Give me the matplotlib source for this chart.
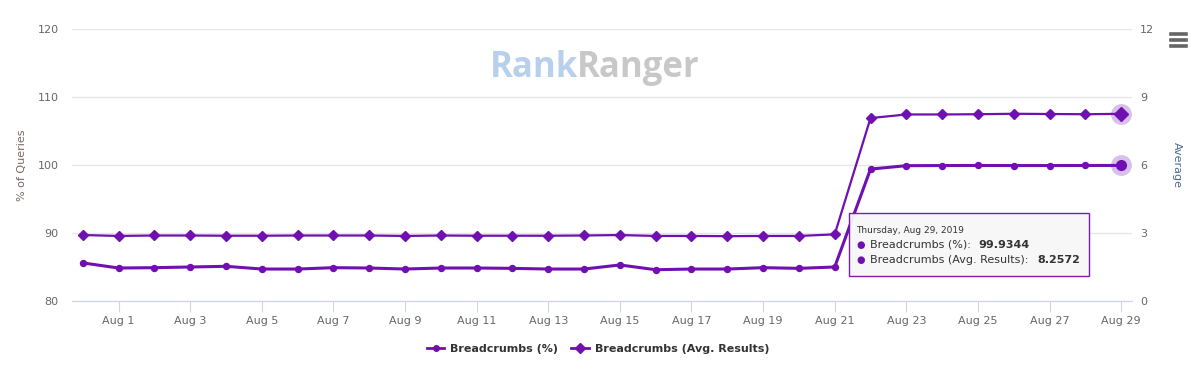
import numpy as np
import matplotlib
matplotlib.use("Agg")
import matplotlib.pyplot as plt
from matplotlib.lines import Line2D

# daily values, Jul 31 .. Aug 29 2019
days = ["Jul 31"] + [f"Aug {d}" for d in range(1, 30)]
pct = [85.6, 84.85, 84.9, 85.0, 85.1, 84.7, 84.7, 84.9, 84.85, 84.7,
       84.85, 84.85, 84.8, 84.7, 84.7, 85.3, 84.6, 84.7, 84.7, 84.9,
       84.8, 85.0, 99.4, 99.9, 99.92, 99.93, 99.92, 99.92, 99.93, 99.9344]
avg = [2.91, 2.87, 2.89, 2.89, 2.88, 2.88, 2.89, 2.89, 2.89, 2.87,
       2.89, 2.88, 2.88, 2.88, 2.89, 2.91, 2.87, 2.87, 2.86, 2.87,
       2.87, 2.94, 8.07, 8.23, 8.23, 8.24, 8.26, 8.25, 8.24, 8.2572]

purple = "#7010b0"
grid = "#e6e6e6"
txt = "#666666"

fig = plt.figure(figsize=(12.03, 3.70), dpi=100)
ax = fig.add_axes([0.0599, 0.1865, 0.881, 0.7351])
ax2 = ax.twinx()

x = np.arange(len(days))

ax.set_ylim(80, 120)
ax.set_yticks([80, 90, 100, 110, 120])
ax2.set_ylim(0, 12)
ax2.set_yticks([0, 3, 6, 9, 12])
ax.set_xlim(-0.3, len(days) - 1 + 0.3)

ax.grid(axis="y", color=grid, lw=1)
ax.set_axisbelow(True)
for a in (ax, ax2):
    for s in ("top", "left", "right"):
        a.spines[s].set_visible(False)
    a.spines["bottom"].set_color("#ccd6eb")
    a.tick_params(axis="y", length=0, labelsize=8, colors=txt)
ax.tick_params(axis="y", pad=9.5)
ax2.tick_params(axis="y", pad=6)

ticks = list(range(1, len(days), 2))
ax.set_xticks(ticks)
ax.set_xticklabels([days[i] for i in ticks])
ax.tick_params(axis="x", length=8, color="#ccd6eb", labelsize=8, colors=txt, pad=3)

ax.set_ylabel("% of Queries", fontsize=8, color="#7a6660", labelpad=8)
ax2.set_ylabel("Average", fontsize=8, color="#4e6a8c", rotation=270, labelpad=20)

# series
ax.plot(x, pct, color=purple, lw=2.2, marker="o", ms=4.3, zorder=3)
ax2.plot(x, avg, color=purple, lw=1.6, marker="D", ms=5.0, zorder=3)

# hover halo on last points
ax.plot(x[-1], pct[-1], "o", ms=14, color="#d8c0ec", zorder=2)
ax.plot(x[-1], pct[-1], "o", ms=7, color=purple, zorder=4)
ax2.plot(x[-1], avg[-1], "o", ms=14, color="#d8c0ec", zorder=2)
ax2.plot(x[-1], avg[-1], "D", ms=7, color=purple, zorder=4)

# watermark
t1 = fig.text(0.407, 0.815, "Rank", fontsize=25, fontweight="bold", color="#b9d0ec",
              ha="left", va="center", family="Open Sans")
fig.canvas.draw()
bb = t1.get_window_extent().transformed(fig.transFigure.inverted())
fig.text(bb.x1 - 0.001, 0.815, "Ranger", fontsize=25, fontweight="bold", color="#c8c8c8",
         ha="left", va="center", family="Open Sans")

# menu icon
for yy in (0.907, 0.892, 0.877):
    fig.add_artist(Line2D([0.973, 0.986], [yy, yy], color="#666666", lw=2.6))

# tooltip
fig.patches.append(plt.Rectangle((0.7057, 0.2535), 0.1995, 0.1700, transform=fig.transFigure,
                                 facecolor="#f7f7f7", edgecolor=purple, lw=1, zorder=10, alpha=0.95))
fig.text(0.712, 0.376, "Thursday, Aug 29, 2019", fontsize=6.5, color="#333333",
         va="center", zorder=11)
fig.text(0.712, 0.338, "●", fontsize=7, color=purple, va="center", zorder=11)
fig.text(0.723, 0.338, "Breadcrumbs (%): ", fontsize=8, color="#333333", va="center", zorder=11)
fig.text(0.8135, 0.338, "99.9344", fontsize=8, color="#333333", va="center",
         fontweight="bold", zorder=11)
fig.text(0.712, 0.297, "●", fontsize=7, color=purple, va="center", zorder=11)
fig.text(0.723, 0.297, "Breadcrumbs (Avg. Results): ", fontsize=8, color="#333333",
         va="center", zorder=11)
fig.text(0.862, 0.297, "8.2572", fontsize=8, color="#333333", va="center",
         fontweight="bold", zorder=11)

# legend
handles = [Line2D([], [], color=purple, lw=2, marker="o", ms=4),
           Line2D([], [], color=purple, lw=2, marker="D", ms=5)]
fig.legend(handles, ["Breadcrumbs (%)", "Breadcrumbs (Avg. Results)"], loc="center",
           bbox_to_anchor=(0.497, 0.057), ncol=2, frameon=False, handlelength=1.6,
           columnspacing=1.2, handletextpad=0.5,
           prop={"size": 8, "weight": "bold"}, labelcolor="#333333")

fig.savefig("out.png", dpi=100, facecolor="white")
